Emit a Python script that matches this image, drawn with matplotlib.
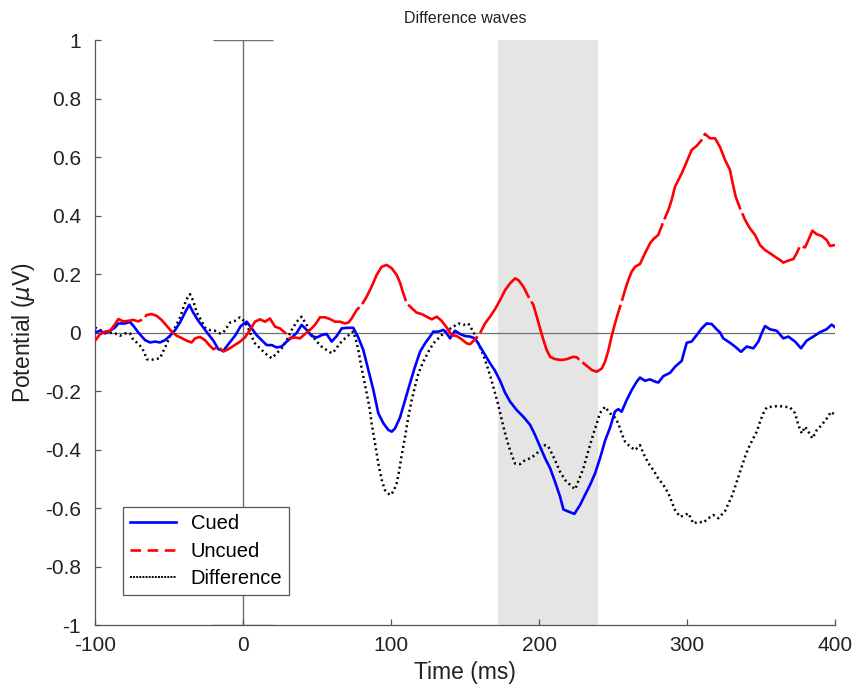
import matplotlib
matplotlib.use('Agg')
import matplotlib.pyplot as plt
from matplotlib.lines import Line2D

plt.rcParams['font.family'] = ['Liberation Sans', 'DejaVu Sans']
plt.rcParams['axes.unicode_minus'] = False

# ERP traces (time in ms, potential in microvolts)
cued_t = [-100, -96.6, -93.2, -89.9, -86.5, -84.2, -79.7, -76.4, -74.1, -70.7, -66.2, -62.8, -59.5,
          -56.1, -52.7, -49.3, -45.9, -42.6, -39.2, -36.3, -33.6, -30.2, -26.8, -23.4, -20.0, -16.7,
          -13.3, -9.9, -5.4, -1.5, 2.5, 5.9, 9.2, 12.6, 16.0, 19.4, 22.7, 26.1, 29.5, 32.9, 36.3,
          39.6, 43.0, 46.4, 49.8, 53.1, 56.5, 59.9, 63.3, 66.7, 70.0, 74.5, 77.9, 81.3, 84.7, 88.1,
          91.4, 94.8, 98.2, 100.5, 102.7, 106.1, 109.5, 112.8, 116.2, 119.6, 123.0, 126.3, 128.6,
          132.0, 135.4, 137.6, 139.9, 143.2, 146.6, 150.0, 153.4, 156.8, 160.1, 163.5, 166.9, 170.3,
          173.7, 177.0, 180.4, 184.9, 189.4, 194.0, 197.3, 200.7, 204.1, 207.5, 210.8, 214.2, 216.5,
          219.8, 223.9, 227.7, 231.1, 234.5, 237.9, 241.2, 244.6, 248.0, 251.3, 253.6, 255.8, 259.2,
          262.6, 266.0, 268.2, 271.6, 275.0, 278.4, 280.6, 284.0, 288.5, 291.9, 296.4, 299.8, 303.1,
          306.5, 309.9, 313.3, 316.7, 320.0, 322.3, 324.5, 329.0, 332.4, 336.5, 340.3, 344.8, 348.2,
          350.4, 352.7, 356.1, 360.6, 365.1, 368.5, 373.0, 377.0, 380.8, 385.3, 389.8, 394.3, 397.7,
          400.0]
cued_v = [0.000, 0.006, -0.003, 0.006, 0.017, 0.031, 0.031, 0.036, 0.023, 0.000, -0.026, -0.034, -0.031,
          -0.034, -0.026, -0.011, 0.008, 0.034, 0.068, 0.095, 0.068, 0.040, 0.017, -0.006, -0.028, -0.057,
          -0.063, -0.040, -0.011, 0.022, 0.037, 0.014, -0.009, -0.026, -0.043, -0.043, -0.051, -0.048, -0.031, -0.017, -0.001,
          0.026, 0.009, -0.012, -0.017, -0.009, -0.005, -0.031, -0.012, 0.014, 0.016, 0.016, -0.017, -0.060, -0.128, -0.197,
          -0.276, -0.310, -0.333, -0.339, -0.328, -0.290, -0.231, -0.174, -0.117, -0.066, -0.037, -0.014, 0.003,
          0.003, 0.009, -0.003, -0.020, 0.006, -0.005, -0.012, -0.014, -0.020, -0.048, -0.077, -0.105, -0.131,
          -0.165, -0.205, -0.236, -0.265, -0.288, -0.316, -0.350, -0.390, -0.430, -0.464, -0.510, -0.561, -0.605,
          -0.612, -0.620, -0.590, -0.555, -0.521, -0.481, -0.430, -0.370, -0.325, -0.270, -0.262, -0.271, -0.231,
          -0.197, -0.168, -0.154, -0.165, -0.160, -0.168, -0.171, -0.149, -0.138, -0.117, -0.097, -0.035, -0.031,
          -0.009, 0.014, 0.031, 0.029, 0.011, 0.000, -0.020, -0.035, -0.048, -0.066, -0.048, -0.054, -0.031,
          -0.003, 0.022, 0.011, 0.006, -0.020, -0.014, -0.031, -0.054, -0.028, -0.014, 0.001, 0.011, 0.027,
          0.018]

uncued_t = [-100, -96.6, -93.2, -89.9, -86.5, -84.2, -80.9, -77.5, -74.1, -70.7, -67.3, -65.1, -61.7,
            -58.3, -55.0, -51.6, -48.2, -44.8, -41.4, -38.1, -34.7, -32.4, -29.1, -25.7, -22.3, -20.0,
            -16.7, -13.3, -9.9, -6.5, -2.0, 1.3, 4.7, 8.1, 11.5, 14.9, 18.2, 21.6, 25.0, 28.4, 31.7,
            35.1, 38.5, 41.9, 45.3, 48.6, 52.0, 55.4, 58.8, 62.2, 65.5, 68.9, 71.2, 73.4, 76.8, 80.2,
            83.6, 86.9, 90.3, 93.7, 97.1, 100.4, 103.8, 106.1, 108.3, 110.6, 115.1, 117.3, 120.7, 124.1,
            127.5, 130.9, 134.2, 137.6, 141.0, 144.4, 147.7, 151.1, 153.4, 156.8, 160.1, 163.5, 166.9,
            170.3, 173.7, 177.1, 180.4, 183.8, 186.1, 189.4, 192.8, 196.2, 198.5, 200.7, 203.0, 205.2,
            207.5, 210.8, 215.3, 218.7, 223.2, 225.5, 228.9, 232.2, 235.6, 239.0, 242.4, 244.6, 246.9,
            249.1, 251.3, 253.6, 255.8, 258.1, 260.3, 262.6, 264.9, 268.2, 271.6, 275.0, 277.2, 280.6,
            284.0, 287.4, 289.6, 291.9, 294.1, 296.4, 299.8, 303.1, 306.5, 309.9, 312.1, 315.5, 318.9,
            322.3, 325.7, 329.0, 330.6, 332.9, 335.8, 339.2, 342.5, 345.9, 349.3, 352.7, 356.1, 359.4,
            362.8, 365.1, 368.5, 371.8, 374.1, 376.3, 379.7, 382.0, 384.7, 387.6, 391.0, 394.4, 396.6,
            400.0]
uncued_v = [-0.028, -0.006, 0.003, 0.006, 0.028, 0.046, 0.038, 0.040, 0.043, 0.038, 0.046, 0.060, 0.063,
            0.057, 0.043, 0.023, 0.003, -0.011, -0.019, -0.028, -0.034, -0.020, -0.015, -0.026, -0.046, -0.057,
            -0.049, -0.065, -0.057, -0.046, -0.031, -0.017, 0.009, 0.037, 0.045, 0.037, 0.048, 0.020, 0.014, -0.001, -0.020,
            -0.017, -0.020, -0.005, 0.009, 0.026, 0.052, 0.052, 0.046, 0.037, 0.037, 0.031, 0.034, 0.048, 0.077, 0.094,
            0.123, 0.157, 0.197, 0.225, 0.231, 0.220, 0.197, 0.170, 0.134, 0.100, 0.078, 0.068, 0.063, 0.054,
            0.045, 0.054, 0.040, 0.017, -0.009, -0.012, -0.023, -0.037, -0.040, -0.023, -0.003, 0.031, 0.054,
            0.080, 0.111, 0.145, 0.168, 0.185, 0.179, 0.157, 0.123, 0.094, 0.054, 0.014, -0.026, -0.060,
            -0.083, -0.091, -0.094, -0.091, -0.083, -0.085, -0.100, -0.114, -0.128, -0.134, -0.123, -0.100, -0.060,
            -0.012, 0.030, 0.070, 0.105, 0.145, 0.179, 0.208, 0.225, 0.234, 0.271, 0.305, 0.319, 0.334,
            0.379, 0.419, 0.453, 0.499, 0.521, 0.544, 0.584, 0.624, 0.638, 0.658, 0.679, 0.664, 0.664,
            0.634, 0.590, 0.556, 0.516, 0.464, 0.425, 0.385, 0.356, 0.334, 0.299, 0.282, 0.271, 0.259,
            0.248, 0.239, 0.246, 0.251, 0.271, 0.296, 0.291, 0.316, 0.348, 0.336, 0.330, 0.316, 0.296,
            0.299]

diff_t = [-100, -95.5, -91.0, -86.5, -83.1, -79.7, -76.4, -74.1, -71.8, -68.5, -66.7, -65.1, -62.8,
          -59.5, -56.1, -53.8, -51.6, -49.3, -45.9, -42.6, -40.3, -38.1, -35.8, -33.6, -31.3, -28.4,
          -25.7, -22.3, -18.9, -15.5, -13.3, -11.0, -8.8, -5.4, -2.0, 1.3, 3.6, 5.9, 8.1, 11.5, 14.9,
          19.4, 22.7, 26.1, 29.5, 32.9, 36.3, 39.6, 43.0, 46.4, 49.8, 53.1, 56.5, 59.9, 62.2, 65.5,
          68.9, 72.3, 74.5, 76.3, 77.9, 79.5, 81.3, 83.1, 85.4, 86.9, 89.2, 91.4, 93.7, 95.9, 99.3,
          101.6, 103.8, 104.9, 107.2, 109.5, 111.7, 114.0, 116.2, 118.5, 121.8, 125.2, 128.6, 132.0,
          135.4, 138.7, 142.1, 145.5, 148.9, 152.2, 155.6, 159.0, 162.4, 165.8, 169.1, 172.5, 174.8,
          177.1, 179.3, 181.6, 183.8, 187.2, 190.6, 194.0, 197.3, 200.7, 204.1, 206.3, 208.6, 210.8,
          214.2, 217.6, 221.0, 224.4, 227.7, 230.0, 232.2, 234.5, 236.8, 239.0, 241.2, 244.6, 248.0,
          251.3, 253.6, 255.8, 258.1, 261.5, 264.9, 268.2, 270.5, 273.9, 277.2, 280.6, 284.0, 287.4,
          289.6, 291.9, 295.3, 298.6, 300.9, 304.3, 307.6, 311.0, 314.4, 317.8, 321.2, 325.7, 330.6,
          334.7, 336.9, 339.2, 341.4, 344.1, 347.1, 349.3, 351.6, 353.8, 357.2, 361.7, 366.2, 369.6,
          373.0, 375.2, 377.5, 379.7, 382.0, 384.7, 387.6, 391.0, 394.4, 397.3, 400.0]
diff_v = [0.017, 0.006, 0.000, -0.003, -0.011, -0.003, -0.003, -0.026, -0.034, -0.051, -0.068, -0.091, -0.094,
          -0.091, -0.088, -0.063, -0.040, -0.011, 0.017, 0.051, 0.085, 0.114, 0.131, 0.108, 0.068, 0.043,
          0.017, 0.008, 0.006, -0.003, 0.000, 0.017, 0.034, 0.040, 0.052, 0.037, 0.014, -0.014, -0.037, -0.054, -0.071,
          -0.088, -0.071, -0.054, -0.026, 0.009, 0.037, 0.054, 0.026, -0.009, -0.031, -0.048, -0.060, -0.071, -0.060, -0.037,
          -0.020, -0.005, 0.003, -0.026, -0.060, -0.105, -0.151, -0.197, -0.254, -0.311, -0.379, -0.447, -0.504, -0.539, -0.556,
          -0.544, -0.516, -0.490, -0.420, -0.356, -0.288, -0.231, -0.185, -0.140, -0.100, -0.066, -0.037, -0.020,
          -0.003, 0.009, 0.020, 0.031, 0.026, 0.031, 0.003, -0.037, -0.077, -0.128, -0.185, -0.248, -0.299,
          -0.345, -0.385, -0.419, -0.448, -0.450, -0.436, -0.430, -0.419, -0.402, -0.385, -0.390, -0.413, -0.436,
          -0.476, -0.504, -0.521, -0.536, -0.493, -0.464, -0.424, -0.385, -0.345, -0.311, -0.275, -0.254, -0.276,
          -0.291, -0.311, -0.345, -0.373, -0.390, -0.402, -0.385, -0.413, -0.447, -0.470, -0.499, -0.521, -0.550,
          -0.578, -0.607, -0.630, -0.624, -0.618, -0.653, -0.647, -0.650, -0.635, -0.624, -0.635, -0.610, -0.556,
          -0.493, -0.459, -0.425, -0.396, -0.368, -0.339, -0.305, -0.276, -0.256, -0.254, -0.251, -0.254, -0.256,
          -0.276, -0.316, -0.345, -0.322, -0.339, -0.362, -0.334, -0.316, -0.294, -0.271, -0.282]

# analysis window and stimulus onset marker
win_start, win_end = 172, 240
onset = 0

fig = plt.figure(figsize=(8.59, 6.96), dpi=100)
ax = fig.add_axes([0.1106, 0.102, 0.8615, 0.8405])

ax.axvspan(win_start, win_end, color='#e5e5e5', lw=0, zorder=0)
ax.axhline(0, color='#707070', lw=0.9, zorder=1)
ax.errorbar(onset, 0, yerr=1, fmt='none', ecolor='#707070', elinewidth=1.0,
            capsize=21.5, capthick=1.0, zorder=1)

ax.plot(cued_t, cued_v, color='#0000ff', lw=1.9, zorder=3)
ax.plot(uncued_t, uncued_v, color='#ff0000', lw=1.9, ls=(12, (34, 1.6)), zorder=3)
ax.plot(diff_t, diff_v, color='black', lw=1.8, ls=(0, (0.8, 1.3)), zorder=2)

ax.set_xlim(-100, 400)
ax.set_ylim(-1, 1)
ax.set_xticks(range(-100, 401, 100))
ax.set_yticks([-1, -0.8, -0.6, -0.4, -0.2, 0, 0.2, 0.4, 0.6, 0.8, 1])
ax.set_yticklabels(['-1', '-0.8', '-0.6', '-0.4', '-0.2', '0', '0.2', '0.4', '0.6', '0.8', '1'])

for side in ['top', 'right']:
    ax.spines[side].set_visible(False)
for side in ['left', 'bottom']:
    ax.spines[side].set_color('#555555')
    ax.spines[side].set_linewidth(0.9)
ax.tick_params(direction='in', length=4.5, width=0.9, color='#555555',
               labelsize=15, labelcolor='#222222', pad=8)
ax.tick_params(axis='y', pad=10)

ax.set_xlabel('Time (ms)', fontsize=16.5, color='#222222', labelpad=4)
ax.set_ylabel(r'Potential ($\mu$V)', fontsize=16.5, color='#222222', labelpad=6)
ax.set_title('Difference waves', fontsize=11.5, color='#222222', pad=12)

handles = [Line2D([], [], color='#0000ff', lw=1.9),
           Line2D([], [], color='#ff0000', lw=1.9, ls=(0, (4, 2.5))),
           Line2D([], [], color='black', lw=1.4, ls=(0, (1, 0.6)))]
leg = ax.legend(handles, ['Cued', 'Uncued', 'Difference'], loc='lower left',
                bbox_to_anchor=(0.038, 0.051), fontsize=14.5, frameon=True, fancybox=False,
                borderpad=0.35, handlelength=2.3, handletextpad=0.7, labelspacing=0.42,
                borderaxespad=0)
leg.get_frame().set_edgecolor('#555555')
leg.get_frame().set_linewidth(0.9)
leg.get_frame().set_alpha(1)

fig.savefig('out.png', dpi=100)
